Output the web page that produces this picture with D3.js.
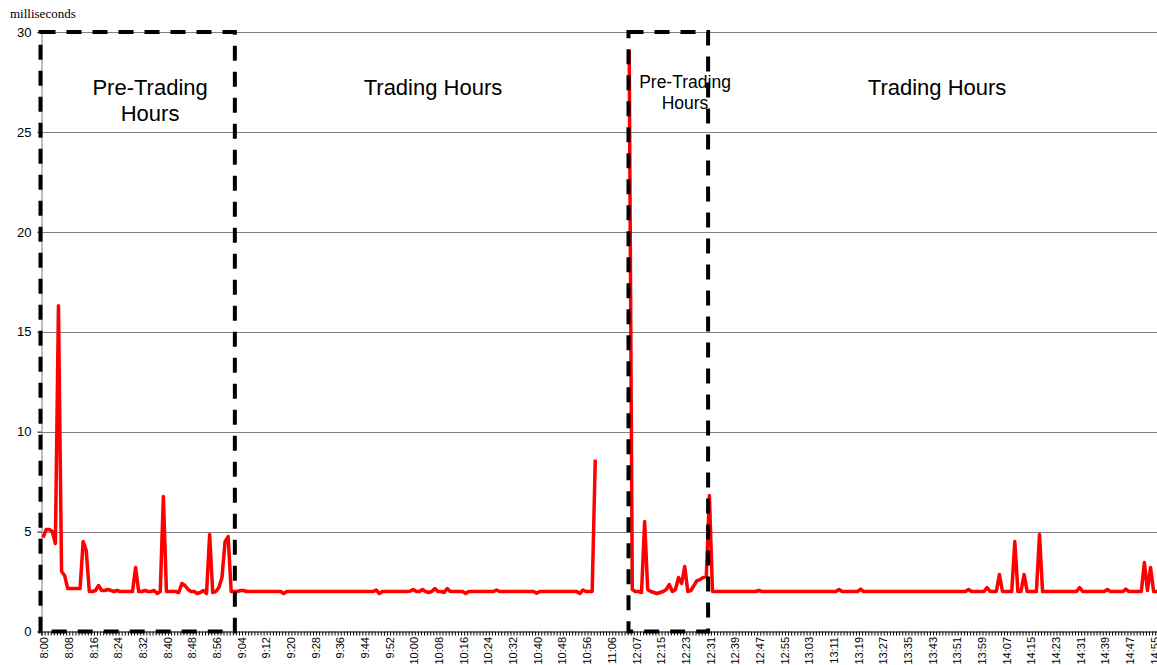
<!DOCTYPE html>
<html>
<head>
<meta charset="utf-8">
<script src="https://cdn.jsdelivr.net/npm/d3@7/dist/d3.min.js"></script>
<style>
  html, body { margin: 0; padding: 0; background: #ffffff; }
  svg { display: block; }
</style>
</head>
<body>
<svg id="chart" width="1157" height="665"></svg>
<script>
// ---------------- DATA ----------------
// one value per minute category (milliseconds); null = no data (lunch break)
const preTradingAM = [
  4.7, 5.1, 5.1, 5.0, 4.4, 16.3, 3.0, 2.8, 2.15, 2.15,
  2.15, 2.15, 2.15, 4.5, 4.05, 2.0, 2.0, 2.05, 2.3, 2.05,
  2.05, 2.1, 2.05, 2.0, 2.05, 2.0, 2.0, 2.0, 2.0, 2.0,
  3.2, 2.0, 2.0, 2.05, 2.0, 2.0, 2.05, 1.9, 2.0, 6.75,
  2.0, 2.0, 2.0, 2.0, 1.95, 2.4, 2.3, 2.1, 2.0, 2.0,
  1.9, 1.95, 2.05, 1.9, 4.85, 1.95, 2.0, 2.2, 2.7, 4.5,
  4.75, 2.0
];
const tradingAM = [
  2.0, 2.0, 2.05, 2.05, 2.0, 2.0, 2.0, 2.0,
  2.0, 2.0, 2.0, 2.0, 2.0, 2.0, 2.0, 2.0, 1.9, 2.0,
  2.0, 2.0, 2.0, 2.0, 2.0, 2.0, 2.0, 2.0, 2.0, 2.0,
  2.0, 2.0, 2.0, 2.0, 2.0, 2.0, 2.0, 2.0, 2.0, 2.0,
  2.0, 2.0, 2.0, 2.0, 2.0, 2.0, 2.0, 2.0, 2.08, 1.9,
  2.0, 2.0, 2.0, 2.0, 2.0, 2.0, 2.0, 2.0, 2.0, 2.02,
  2.1, 2.0, 2.0, 2.1, 2.0, 1.95, 2.0, 2.15, 2.0, 2.0,
  1.95, 2.15, 2.0, 2.0, 2.0, 2.0, 2.0, 1.9, 2.0, 2.0,
  2.0, 2.0, 2.0, 2.0, 2.0, 2.0, 2.0, 2.08, 2.0, 2.0,
  2.0, 2.0, 2.0, 2.0, 2.0, 2.0, 2.0, 2.0, 2.0, 2.0,
  1.92, 2.0, 2.0, 2.0, 2.0, 2.0, 2.0, 2.0, 2.0, 2.0,
  2.0, 2.0, 2.0, 2.0, 1.9, 2.08, 2.0, 2.0, 2.0, 8.6
];
const lunchGap = [null, null, null, null, null, null, null, null, null, null];
const preTradingPM = [
  29.1, 2.1, 2.0, 2.0, 1.95, 5.5, 2.1, 2.0, 1.95, 1.9,
  1.95, 2.0, 2.1, 2.35, 2.0, 2.1, 2.7, 2.4, 3.25, 2.0,
  2.05, 2.3, 2.55, 2.6, 2.7, 2.75, 6.8, 2.0
];
const tradingPM = [
  2.0, 2.0, 2.0, 2.0, 2.0, 2.0, 2.0, 2.0, 2.0, 2.0,
  2.0, 2.0, 2.0, 2.0, 2.05, 2.0, 2.0, 2.0, 2.0, 2.0,
  2.0, 2.0, 2.0, 2.0, 2.0, 2.0, 2.0, 2.0, 2.0, 2.0,
  2.0, 2.0, 2.0, 2.0, 2.0, 2.0, 2.0, 2.0, 2.0, 2.0,
  2.1, 2.0, 2.0, 2.0, 2.0, 2.0, 2.0, 2.12, 2.0, 2.0,
  2.0, 2.0, 2.0, 2.0, 2.0, 2.0, 2.0, 2.0, 2.0, 2.0,
  2.0, 2.0, 2.0, 2.0, 2.0, 2.0, 2.0, 2.0, 2.0, 2.0,
  2.0, 2.0, 2.0, 2.0, 2.0, 2.0, 2.0, 2.0, 2.0, 2.0,
  2.0, 2.0, 2.1, 2.0, 2.0, 2.0, 2.0, 2.0, 2.2, 2.0,
  2.0, 2.0, 2.85, 2.0, 2.0, 2.0, 2.0, 4.5, 2.0, 2.0,
  2.85, 2.0, 2.0, 2.0, 2.0, 4.85, 2.0, 2.0, 2.0, 2.0,
  2.0, 2.0, 2.0, 2.0, 2.0, 2.0, 2.0, 2.0, 2.2, 2.0,
  2.0, 2.0, 2.0, 2.0, 2.0, 2.0, 2.0, 2.1, 2.0, 2.0,
  2.0, 2.0, 2.0, 2.12, 2.0, 2.0, 2.0, 2.0, 2.0, 3.45,
  2.05, 3.2, 2.0, 2.0, 2.0, 2.0, 2.0
];
// x tick labels, one every 8 categories
const tickLabels = [
  "8:00","8:08","8:16","8:24","8:32","8:40","8:48","8:56",
  "9:04","9:12","9:20","9:28","9:36","9:44","9:52",
  "10:00","10:08","10:16","10:24","10:32","10:40","10:48","10:56",
  "11:06",
  "12:07","12:15","12:23","12:31","12:39","12:47","12:55",
  "13:03","13:11","13:19","13:27","13:35","13:43","13:51","13:59",
  "14:07","14:15","14:23","14:31","14:39","14:47","14:55"
];
const labelEvery = 8;
const yTicks = [0, 5, 10, 15, 20, 25, 30];
const yLabel = "milliseconds";
// annotated regions (in category units)
const regions = [
  { name: ["Pre-Trading", "Hours"], from: 0, to: 63, boxed: true, labelAt: 35.2, size: 22 },
  { name: ["Trading Hours"], from: 63, to: 190.6, boxed: false, labelAt: 126.9, size: 22 },
  { name: ["Pre-Trading", "Hours"], from: 190.6, to: 216.4, boxed: true, labelAt: 208.6, size: 17.5 },
  { name: ["Trading Hours"], from: 216.4, to: 365, boxed: false, labelAt: 290.3, size: 22 }
];

// ---------------- CHART ----------------
(function () {
  const values = [...preTradingAM, ...tradingAM, ...lunchGap, ...preTradingPM, ...tradingPM];
  const n = values.length;

  const svg = d3.select("#chart");
  const W = 1157;
  const pLeft = 41.5, pBottom = 631.5, pTop = 32;
  const step = 3.085;
  const pRight = pLeft + n * step;

  const x = d3.scaleBand().domain(d3.range(n)).range([pLeft, pRight]).padding(0);
  const xPos = d3.scaleLinear().domain([0, n]).range([pLeft, pRight]);
  const y = d3.scaleLinear().domain([0, 30]).range([pBottom, pTop]);
  const cx = i => x(i) + x.bandwidth() / 2;

  // gridlines
  svg.append("g").selectAll("line")
    .data(yTicks.filter(t => t > 0))
    .join("line")
    .attr("x1", pLeft).attr("x2", W)
    .attr("y1", d => Math.round(y(d)) + 0.5).attr("y2", d => Math.round(y(d)) + 0.5)
    .attr("stroke", "#808080").attr("stroke-width", 1);

  // y axis
  const yAxis = svg.append("g")
    .attr("transform", `translate(${pLeft},0)`)
    .call(d3.axisLeft(y).tickValues(yTicks).tickSize(4).tickPadding(6).tickFormat(d3.format("d")));
  yAxis.select(".domain").attr("stroke", "#808080");
  yAxis.selectAll(".tick line").attr("stroke", "#000");
  yAxis.selectAll("text")
    .attr("font-family", "'Liberation Sans', Arial, sans-serif")
    .attr("font-size", 13).attr("fill", "#000");

  svg.append("text")
    .attr("x", 10).attr("y", 18)
    .attr("font-family", "'Liberation Serif', 'Times New Roman', serif")
    .attr("font-size", 13).attr("fill", "#000")
    .text(yLabel);

  // x axis (ticks at category boundaries)
  const xAxis = svg.append("g")
    .attr("transform", `translate(0,${pBottom})`)
    .call(d3.axisBottom(xPos).tickValues(d3.range(n + 1)).tickSize(4).tickFormat(""));
  xAxis.select(".domain").attr("stroke", "#000");
  xAxis.selectAll(".tick line").attr("stroke", "#000");

  // x tick labels
  svg.append("g").selectAll("text")
    .data(tickLabels)
    .join("text")
    .attr("transform", (d, k) => `translate(${cx(k * labelEvery)},637) rotate(-90)`)
    .attr("dy", "0.47em")
    .attr("text-anchor", "end")
    .attr("font-family", "'Liberation Sans', Arial, sans-serif")
    .attr("font-size", 11).attr("fill", "#000")
    .text(d => d);

  // data line
  const line = d3.line()
    .defined(d => d != null)
    .x((d, i) => cx(i))
    .y(d => y(d));
  svg.append("path")
    .datum(values)
    .attr("d", line)
    .attr("fill", "none")
    .attr("stroke", "#ff0000")
    .attr("stroke-width", 3.5)
    .attr("stroke-linejoin", "round");

  // region labels
  regions.forEach(r => {
    const isSmall = r.size < 20;
    const t = svg.append("text")
      .attr("text-anchor", "middle")
      .attr("font-family", "'Liberation Sans', Arial, sans-serif")
      .attr("font-size", r.size).attr("fill", "#000");
    r.name.forEach((s, j) => {
      t.append("tspan")
        .attr("x", xPos(r.labelAt))
        .attr("y", (isSmall ? 88 : 95) + j * (isSmall ? 21 : 26))
        .text(s);
    });
  });

  // dashed boxes
  svg.append("g").selectAll("rect")
    .data(regions.filter(r => r.boxed))
    .join("rect")
    .attr("x", d => xPos(d.from) - 1)
    .attr("y", pTop)
    .attr("width", d => xPos(d.to) - xPos(d.from))
    .attr("height", pBottom - pTop)
    .attr("fill", "none")
    .attr("stroke", "#000")
    .attr("stroke-width", 4)
    .attr("stroke-dasharray", "15,11");
})();
</script>
</body>
</html>
